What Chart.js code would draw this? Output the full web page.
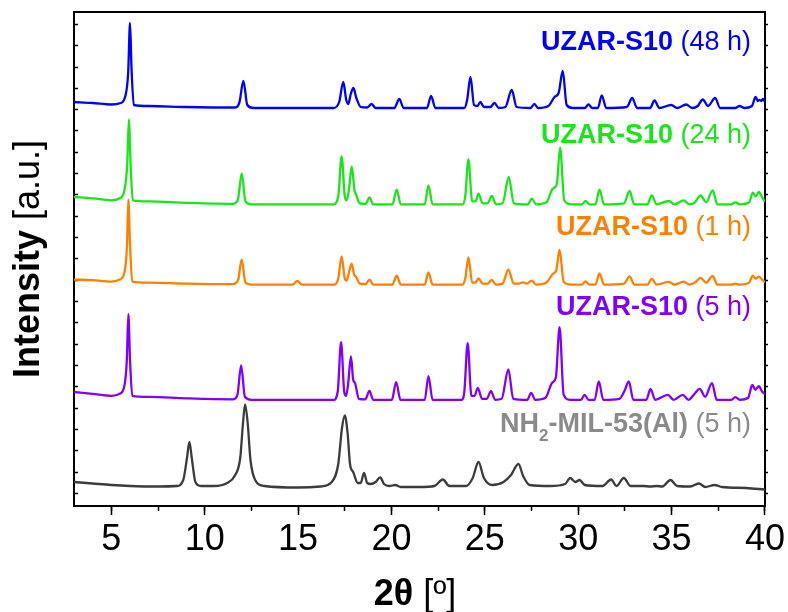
<!DOCTYPE html>
<html>
<head>
<meta charset="utf-8">
<script src="https://cdn.jsdelivr.net/npm/chart.js@4.4.1/dist/chart.umd.min.js"></script>
<style>
  html, body { margin: 0; padding: 0; background: #ffffff; }
  canvas { display: block; }
</style>
</head>
<body>
<canvas id="xrdChart" width="788" height="612"></canvas>
<script>
// Series names (bold part + normal part)
const sampleNames = ["UZAR-S10", "UZAR-S10", "UZAR-S10", "UZAR-S10", "NH2-MIL-53(Al)"];
const sampleTimes = [" (48 h)", " (24 h)", " (1 h)", " (5 h)", " (5 h)"];

// Vertical offsets used to stack the patterns
const stackOffset = [398, 301.7, 221.4, 106.2, 18];

// 2theta / intensity pairs (intensity above each baseline)
const pattern48h = [
  [3.0, 6], [4.0, 5], [5.0, 3.5], [5.5, 5], [5.75, 12], [5.9, 35], [6.0, 85], [6.08, 40], [6.2, 3],
  [7.0, 2], [9.0, 1], [11.6, 0.5], [11.85, 5], [12.07, 27], [12.28, 3], [12.6, 0],
  [16.9, 0], [17.2, 6], [17.42, 26], [17.58, 8], [17.69, 4], [17.82, 14], [17.96, 20], [18.12, 10],
  [18.35, 1], [18.7, 0.5], [18.94, 4], [19.15, 0], [20.15, 0], [20.42, 9], [20.65, 0],
  [21.9, 0], [22.12, 12], [22.35, 0], [23.9, 0], [24.05, 8], [24.23, 31], [24.42, 3], [24.6, 2],
  [24.76, 6], [24.95, 1], [25.3, 1], [25.51, 5], [25.75, 0], [26.1, 1], [26.44, 18], [26.7, 1],
  [27.45, 0], [27.65, 4], [27.85, 0], [28.4, 2], [28.73, 11], [28.95, 15], [29.17, 37], [29.38, 3],
  [29.7, 0], [30.35, 0], [30.55, 3.5], [30.75, 0], [31.05, 0], [31.26, 12.5], [31.5, 0],
  [32.6, 1], [32.89, 10], [33.15, 0], [33.85, 0], [34.08, 7.5], [34.35, 0], [34.98, 3], [35.3, 0],
  [35.78, 3.5], [36.1, 0], [36.4, 2], [36.67, 8.5], [36.95, 2], [37.33, 10], [37.6, 0],
  [38.4, 0], [38.64, 2], [38.9, 0], [39.3, 2], [39.5, 11], [39.62, 7], [39.71, 8], [39.8, 7],
  [39.88, 9], [40.0, 6]
];

const pattern24h = [
  [3.0, 7.3], [4.0, 6], [5.0, 4], [5.45, 6], [5.7, 14], [5.85, 40], [5.94, 85], [6.03, 40], [6.15, 4],
  [7.0, 3], [9.0, 1.5], [11.5, 0.5], [11.78, 5], [11.98, 31], [12.18, 3], [12.5, 0],
  [16.9, 0], [17.15, 8], [17.33, 48], [17.5, 8], [17.6, 4], [17.72, 14], [17.87, 38], [18.02, 14],
  [18.1, 10], [18.3, 1], [18.62, 0.5], [18.82, 7], [19.02, 0], [20.05, 0], [20.28, 14.7], [20.5, 0],
  [21.78, 0], [21.98, 19], [22.2, 0], [23.8, 0], [23.95, 8], [24.12, 45], [24.32, 3], [24.5, 3],
  [24.66, 10.7], [24.88, 1], [25.15, 1], [25.37, 8.3], [25.6, 0], [25.95, 1], [26.28, 27.3], [26.55, 1],
  [27.3, 0], [27.51, 5.7], [27.75, 0], [28.3, 2], [28.64, 15.7], [28.85, 20], [29.03, 56.7], [29.25, 4],
  [29.6, 0], [30.2, 0], [30.39, 3.3], [30.6, 0], [30.92, 0], [31.14, 14.7], [31.38, 0],
  [32.45, 1], [32.75, 13.3], [33.0, 0], [33.7, 0], [33.94, 9], [34.2, 0], [34.85, 3.3], [35.15, 0],
  [35.65, 4], [35.95, 0], [36.25, 2], [36.55, 9], [36.85, 2], [37.2, 14], [37.45, 0],
  [38.2, 0], [38.42, 2], [38.65, 0], [39.15, 2], [39.35, 11.7], [39.5, 8], [39.67, 12.3],
  [39.85, 7], [40.0, 2.3]
];

const pattern1h = [
  [3.0, 5], [4.0, 4.5], [5.0, 3], [5.45, 5], [5.7, 12], [5.84, 40], [5.91, 85], [6.0, 40], [6.12, 3],
  [7.0, 2], [9.0, 1], [11.5, 0.5], [11.78, 4], [11.98, 25.3], [12.18, 2], [12.5, 0],
  [14.7, 0], [14.96, 3.6], [15.2, 0], [16.95, 0], [17.15, 6], [17.33, 28.3], [17.5, 6], [17.6, 4],
  [17.72, 12], [17.87, 21], [18.0, 10], [18.1, 8], [18.3, 1], [18.62, 0.5], [18.82, 5], [19.02, 0],
  [20.05, 0], [20.28, 9], [20.5, 0], [21.78, 0], [21.98, 12.3], [22.2, 0], [23.8, 0], [23.95, 6],
  [24.12, 27.3], [24.32, 2], [24.5, 2], [24.66, 6.3], [24.88, 1], [25.15, 1], [25.37, 4.7], [25.6, 0],
  [25.95, 1], [26.26, 15], [26.55, 1], [26.8, 1], [27.03, 2.3], [27.25, 1], [27.51, 4], [27.75, 0],
  [28.3, 2], [28.64, 10.7], [28.82, 14], [29.0, 34.7], [29.22, 3], [29.6, 0], [30.2, 0], [30.39, 3.3],
  [30.6, 0], [30.92, 0], [31.14, 11.3], [31.38, 0], [32.45, 1], [32.75, 8.3], [33.0, 0], [33.7, 0],
  [33.94, 5.7], [34.2, 0], [34.85, 2.7], [35.15, 0], [35.65, 3], [35.95, 0], [36.25, 2], [36.55, 6.7],
  [36.85, 2], [37.2, 8.7], [37.45, 0], [38.2, 0], [38.42, 1], [38.65, 0], [39.15, 2], [39.35, 9],
  [39.5, 6], [39.67, 8], [39.85, 5], [40.0, 2.3]
];

const pattern5h = [
  [3.0, 7.8], [4.0, 6], [5.0, 4], [5.45, 6], [5.7, 14], [5.83, 40], [5.91, 85.7], [6.0, 40], [6.12, 4],
  [7.0, 3], [9.0, 1.5], [11.5, 0.5], [11.75, 5], [11.95, 34.3], [12.15, 3], [12.5, 0],
  [16.9, 0], [17.12, 8], [17.3, 57.7], [17.47, 8], [17.57, 4], [17.68, 16], [17.83, 43.3], [17.95, 20],
  [18.05, 16.7], [18.25, 1], [18.6, 0.5], [18.82, 9], [19.02, 0], [20.02, 0], [20.25, 17.7], [20.48, 0],
  [21.78, 0], [21.98, 23.7], [22.2, 0], [23.75, 0], [23.9, 8], [24.08, 56.7], [24.28, 4], [24.45, 4],
  [24.62, 12], [24.85, 1], [25.1, 1], [25.33, 8.7], [25.55, 0], [25.9, 1], [26.26, 30.3], [26.52, 1],
  [27.27, 0], [27.48, 7], [27.7, 0], [28.25, 2], [28.6, 17], [28.8, 22], [29.0, 72.7], [29.22, 5],
  [29.55, 0], [30.15, 0], [30.34, 5], [30.55, 0], [30.88, 0], [31.1, 18.3], [31.34, 0],
  [32.2, 1], [32.48, 9], [32.71, 18.3], [32.95, 0], [33.65, 0], [33.87, 11], [34.12, 0], [34.8, 5],
  [35.1, 0], [35.6, 5], [35.9, 0], [36.23, 6], [36.5, 11], [36.8, 3], [37.16, 16.7], [37.42, 0],
  [38.2, 0], [38.41, 2.7], [38.65, 0], [39.1, 2], [39.32, 15], [39.48, 10], [39.67, 13.7],
  [39.85, 8], [40.0, 6]
];

const patternMil53 = [
  [3.0, 6], [4.0, 4.5], [5.0, 3], [6.0, 2], [7.5, 1.5], [8.5, 2], [8.85, 8], [9.05, 30], [9.18, 46],
  [9.32, 28], [9.5, 6], [9.8, 2], [10.5, 2], [11.2, 5], [11.6, 12], [11.9, 30], [12.05, 65],
  [12.16, 83.7], [12.3, 65], [12.45, 28], [12.7, 8], [13.2, 2], [15.0, 0.5], [16.2, 1.5], [16.8, 6],
  [17.15, 24], [17.35, 60], [17.5, 72.7], [17.65, 55], [17.78, 24], [17.95, 16], [18.2, 5], [18.35, 5],
  [18.53, 15], [18.7, 5], [18.9, 4], [19.15, 6], [19.39, 10.7], [19.6, 4], [19.9, 2], [20.2, 3],
  [20.5, 1], [21.5, 1], [22.3, 2], [22.75, 8.5], [23.1, 2], [24.0, 2], [24.35, 10], [24.66, 26],
  [24.95, 10], [25.4, 3], [26.0, 6], [26.4, 13], [26.8, 24], [27.05, 12], [27.4, 3], [28.5, 2],
  [29.3, 4], [29.57, 10], [29.85, 6], [30.07, 8], [30.35, 3], [31.3, 2], [31.76, 8.5], [32.05, 2],
  [32.44, 10], [32.8, 2], [33.5, 2], [33.85, 1.5], [34.2, 2], [34.5, 1.5], [34.94, 8], [35.3, 2],
  [36.0, 1.5], [36.46, 4.5], [36.8, 1], [37.3, 3], [37.7, 1], [39.0, 0], [40.0, -1.6]
];

const patterns = [pattern48h, pattern24h, pattern1h, pattern5h, patternMil53];
const lineColors = ["#0000ff", "#19e619", "#ff8000", "#8000ff", "#3c3c3c"];
const labelColors = ["#0000ff", "#19e619", "#ff8000", "#8000ff", "#8a8a8a"];

const fontFamily = "'Liberation Sans', Arial, Helvetica, sans-serif";
Chart.defaults.font.family = fontFamily;
Chart.defaults.color = "#000000";

// Build datasets from the pairs
const datasets = patterns.map((pairs, i) => ({
  label: sampleNames[i] + sampleTimes[i],
  data: pairs.map((p) => ({ x: p[0], y: p[1] + stackOffset[i] })),
  borderColor: lineColors[i],
  borderWidth: 2.3,
  pointRadius: 0,
  fill: false,
  cubicInterpolationMode: "monotone",
}));

// Label baselines (canvas px) for each series label
const labelBaseY = [49.5, 143, 235, 315, 432];

// Draws the mixed-weight axis titles and the series labels
const textPlugin = {
  id: "xrdText",
  afterDraw(chart) {
    const ctx = chart.ctx;
    ctx.save();
    ctx.textBaseline = "alphabetic";
    ctx.textAlign = "left";

    // y axis title
    const bold36 = "bold 36px " + fontFamily;
    const norm36 = "36px " + fontFamily;
    ctx.font = bold36;
    const wB = ctx.measureText("Intensity ").width;
    ctx.font = norm36;
    const wN = ctx.measureText("[a.u.]").width;
    ctx.translate(39, (chart.chartArea.top + chart.chartArea.bottom) / 2);
    ctx.rotate(-Math.PI / 2);
    ctx.fillStyle = "#000";
    ctx.font = bold36;
    ctx.fillText("Intensity ", -(wB + wN) / 2, 0);
    ctx.font = norm36;
    ctx.fillText("[a.u.]", -(wB + wN) / 2 + wB, 0);
    ctx.setTransform(1, 0, 0, 1, 0, 0);

    // x axis title
    const boldX = "bold 36px " + fontFamily;
    const normX = "36px " + fontFamily;
    ctx.font = boldX;
    const xB = ctx.measureText("2θ").width;
    ctx.font = normX;
    const xN = ctx.measureText(" [º]").width;
    const xc = 415;
    ctx.font = boldX;
    ctx.fillText("2θ", xc - (xB + xN) / 2, 605);
    ctx.font = normX;
    ctx.fillText(" [º]", xc - (xB + xN) / 2 + xB, 605);

    // series labels, right aligned
    const right = 751;
    const boldL = "bold 27px " + fontFamily;
    const normL = "27px " + fontFamily;
    const subL = "bold 17px " + fontFamily;
    for (let i = 0; i < sampleNames.length; i++) {
      const y = labelBaseY[i];
      ctx.fillStyle = labelColors[i];
      let parts;
      if (sampleNames[i].startsWith("NH2")) {
        parts = [
          { t: "NH", f: boldL, dy: 0 },
          { t: "2", f: subL, dy: 9 },
          { t: sampleNames[i].slice(3), f: boldL, dy: 0 },
          { t: sampleTimes[i], f: normL, dy: 0 },
        ];
      } else {
        parts = [
          { t: sampleNames[i], f: boldL, dy: 0 },
          { t: sampleTimes[i], f: normL, dy: 0 },
        ];
      }
      let total = 0;
      parts.forEach((p) => {
        ctx.font = p.f;
        p.w = ctx.measureText(p.t).width;
        total += p.w;
      });
      let x = right - total;
      parts.forEach((p) => {
        ctx.font = p.f;
        ctx.fillText(p.t, x, y + p.dy);
        x += p.w;
      });
    }
    ctx.restore();
  },
};

const ctx = document.getElementById("xrdChart").getContext("2d");
const xrdChart = new Chart(ctx, {
  type: "line",
  data: { datasets: datasets },
  options: {
    responsive: false,
    animation: false,
    layout: { padding: { top: 12, left: 0, right: 0, bottom: 0 } },
    plugins: {
      legend: { display: false },
      tooltip: { enabled: false },
    },
    scales: {
      x: {
        type: "linear",
        position: "bottom",
        weight: 1,
        min: 3,
        max: 40,
        ticks: {
          stepSize: 5,
          includeBounds: false,
          font: { size: 36 },
          color: "#000",
          padding: 3,
          maxRotation: 0,
        },
        grid: { drawOnChartArea: false, tickLength: 9, tickColor: "#000", tickWidth: 1.5 },
        border: { color: "#000", width: 2 },
        afterFit: (scale) => { scale.height = 106; },
      },
      xMinor: {
        type: "linear",
        position: "bottom",
        weight: 0,
        min: 3,
        max: 40,
        ticks: { stepSize: 2.5, includeBounds: false, display: false },
        grid: { drawOnChartArea: false, tickLength: 5, tickColor: "#000", tickWidth: 1.5 },
        border: { display: false },
        afterFit: (scale) => { scale.height = 0; },
      },
      xTop: {
        type: "linear",
        position: "top",
        min: 3,
        max: 40,
        ticks: { display: false },
        grid: { display: false },
        border: { color: "#000", width: 2 },
        afterFit: (scale) => { scale.height = 0; },
      },
      y: {
        type: "linear",
        position: "left",
        min: 0,
        max: 494,
        ticks: { display: false },
        grid: { drawOnChartArea: false, tickLength: -4, tickColor: "#000", tickWidth: 1.5 },
        border: { color: "#000", width: 2 },
        afterBuildTicks: (scale) => {
          const t = [];
          for (let k = 0; k <= 22; k++) t.push({ value: 12.4 + 21.33 * k });
          scale.ticks = t;
        },
        afterFit: (scale) => { scale.width = 74; },
      },
      yRight: {
        type: "linear",
        position: "right",
        min: 0,
        max: 494,
        ticks: { display: false },
        grid: { drawOnChartArea: false, tickLength: 3, tickColor: "#000", tickWidth: 1.5 },
        border: { color: "#000", width: 2 },
        afterBuildTicks: (scale) => {
          const t = [];
          for (let k = 0; k <= 22; k++) t.push({ value: 12.4 + 21.33 * k });
          scale.ticks = t;
        },
        afterFit: (scale) => { scale.width = 23; },
      },
    },
  },
  plugins: [textPlugin],
});
</script>
</body>
</html>
